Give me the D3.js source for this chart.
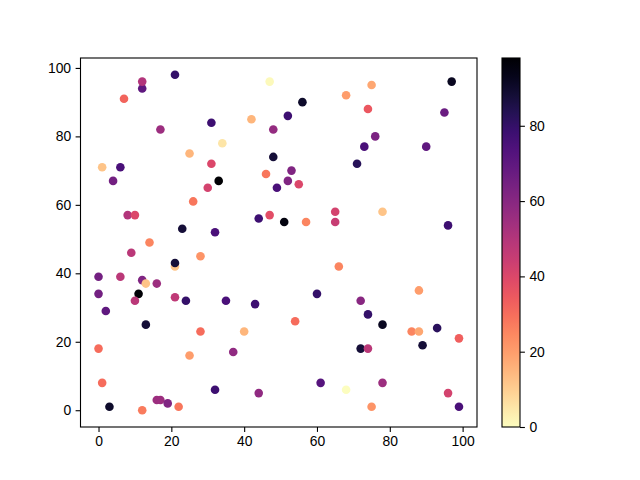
<!DOCTYPE html>
<html><head><meta charset="utf-8">
<script src="https://cdn.jsdelivr.net/npm/d3@7"></script>
<style>body{margin:0;background:#fff}svg{display:block}text{font-family:"Liberation Sans",Arial,sans-serif;font-size:13.9px;fill:#000}</style>
</head><body><svg id="c" width="640" height="480"></svg>
<script>
const xs = [21,12,12,7,47,56,42,52,48,31,17,34,25,48,31,1,6,4,33,30,26,8,10,23,32,14,46,53,52,49,55,44,47,51,57,65,65,68,75,74,97,95,76,73,90,71,78,96,28,9,21,21,0,6,12,13,16,11,10,0,2,21,24,13,28,0,25,1,32,16,17,19,3,12,22,66,60,35,43,54,40,37,44,61,68,88,72,74,78,86,88,93,99,72,74,89,78,75,96,99];
const ys = [98,94,96,91,96,90,85,86,82,84,82,78,75,74,72,71,71,67,67,65,61,57,57,53,52,49,69,70,67,65,66,56,57,55,55,58,55,92,95,88,96,87,80,77,77,72,58,54,45,46,42,43,39,39,38,37,37,34,32,34,29,33,32,25,23,18,16,8,6,3,3,2,1,0,1,42,34,32,31,26,23,17,5,8,6,35,32,28,25,23,23,24,21,18,18,19,8,1,5,1];
const cs = [80,70,50,32,1,90,15,78,57,78,55,5,15,88,40,12,75,65,98,42,28,50,40,88,75,25,28,62,62,75,40,78,38,95,25,42,45,20,18,35,92,67,63,75,70,83,12,78,22,48,12,88,65,48,62,12,55,97,48,65,70,47,80,88,30,30,20,30,78,55,55,62,90,27,28,25,80,75,78,30,15,58,58,72,0,20,60,80,92,25,18,82,33,88,48,88,55,22,42,75];
const xTicks = [0,20,40,60,80,100];
const yTicks = [0,20,40,60,80,100];
const cTicks = [0,20,40,60,80];

const svg = d3.select("#c");
const L=80.5,R=477,T=58,B=427;
const x = d3.scaleLinear().domain([-4.95,103.95]).range([L,R]);
const y = d3.scaleLinear().domain([-4.9,102.9]).range([B,T]);
const cmax = d3.max(cs);
const col = v => d3.interpolateMagma(1 - v/cmax);

svg.append("g").selectAll("circle").data(xs.map((d,i)=>({x:d,y:ys[i],c:cs[i]})))
  .join("circle").attr("cx",d=>x(d.x)).attr("cy",d=>y(d.y)).attr("r",4.3).attr("fill",d=>col(d.c));

svg.append("rect").attr("x",L).attr("y",T).attr("width",R-L).attr("height",B-T).attr("fill","none").attr("stroke","#000").attr("stroke-width",1.1);

const xa = svg.append("g").attr("transform",`translate(0,${B})`).call(d3.axisBottom(x).tickValues(xTicks).tickSize(4.9).tickPadding(4.5));
const ya = svg.append("g").attr("transform",`translate(${L},0)`).call(d3.axisLeft(y).tickValues(yTicks).tickSize(4.9).tickPadding(4.5));
[xa,ya].forEach(a=>{a.select(".domain").remove();a.selectAll("line").attr("stroke","#000").attr("stroke-width",1.1);a.selectAll("text").attr("font-size",null).attr("font-family",null);});

// colorbar
const cx0=502,cw=18;
const cy = d3.scaleLinear().domain([0,cmax]).range([B,T]);
const defs = svg.append("defs");
const grad = defs.append("linearGradient").attr("id","g").attr("x1",0).attr("y1",1).attr("x2",0).attr("y2",0);
d3.range(0,1.0001,0.05).forEach(t=>grad.append("stop").attr("offset",t).attr("stop-color",d3.interpolateMagma(1-t)));
svg.append("rect").attr("x",cx0).attr("y",T).attr("width",cw).attr("height",B-T).attr("fill","url(#g)").attr("stroke","#000").attr("stroke-width",1.1);
const ca = svg.append("g").attr("transform",`translate(${cx0+cw},0)`).call(d3.axisRight(cy).tickValues(cTicks).tickSize(4.9).tickPadding(4.5));
ca.select(".domain").remove();ca.selectAll("line").attr("stroke","#000").attr("stroke-width",1.1);ca.selectAll("text").attr("font-size",null).attr("font-family",null);
</script></body></html>
